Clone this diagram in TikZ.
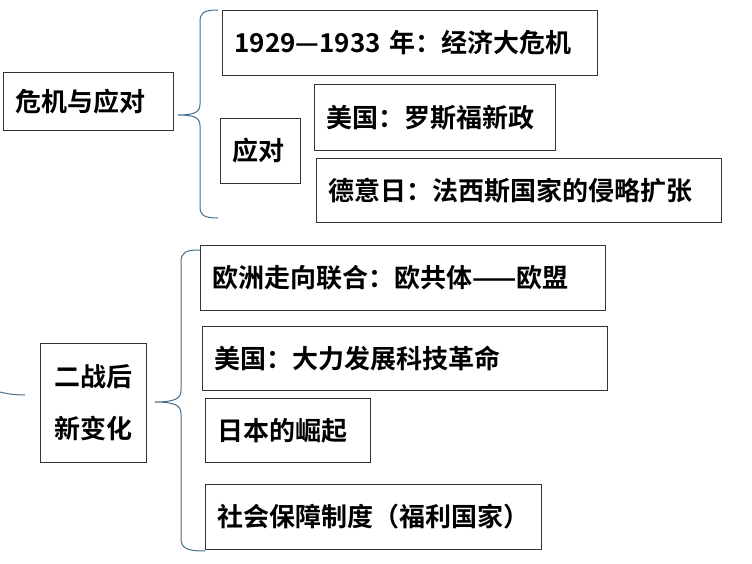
\documentclass[tikz,border=0pt]{standalone}
\usepackage{fontspec}
\setmainfont{Noto Sans CJK SC}[BoldFont={Noto Sans CJK SC Bold}]
\begin{document}
\begin{tikzpicture}[x=1pt,y=-1pt,
  box/.style={draw=black!80,line width=1pt,anchor=north west,inner xsep=12pt,inner ysep=0pt,align=left,font=\fontsize{26}{52}\selectfont\bfseries},
  br/.style={draw={rgb,255:red,70;green,110;blue,140},line width=1pt}]
\useasboundingbox (0,0) rectangle (752,564);
\newcommand\bx[6]{\node[box,text width=#4-24,minimum height=#5] (#1) at (#2,#3) {#6};}
\bx{a}{3}{72}{170}{58}{危机与应对}
\bx{b}{222}{10}{375}{65}{1929—1933 年：经济大危机}
\bx{c}{220}{118}{80}{65}{应对}
\bx{d}{314}{84}{241}{66}{美国：罗斯福新政}
\bx{e}{316}{158}{405}{64}{德意日：法西斯国家的侵略扩张}
\node[box,text width=82,minimum height=119,align=center] (f) at (40,343) {二战后\\新变化};
\bx{g}{200}{245}{405}{65}{欧洲走向联合：欧共体——欧盟}
\bx{h}{202}{326}{405}{64}{美国：大力发展科技革命}
\bx{i}{205}{398}{165}{64}{日本的崛起}
\bx{j}{205}{484}{336}{65}{社会保障制度（福利国家）}
\coordinate (t1) at (178,115);
\draw[br] (218,10) .. controls (202,10) and (200,14) .. (200,22) -- (200,104) .. controls (200,112) and (195,115) .. (t1)
  .. controls (195,115) and (200,118) .. (200,126) -- (200,206) .. controls (200,214) and (202,218) .. (218,218);
\coordinate (t2) at (155,402);
\draw[br] (200,250) .. controls (186,250) and (181,252) .. (181,262) -- (181,390) .. controls (181,398) and (176,402) .. (t2)
  .. controls (176,402) and (181,406) .. (181,414) -- (181,538) .. controls (181,548) and (186,551) .. (205,551);
\coordinate (s0) at (0,392);
\coordinate (s1) at (25,395);
\draw[br] (s0) .. controls (8,394) and (15,395) .. (s1);
\end{tikzpicture}
\end{document}
